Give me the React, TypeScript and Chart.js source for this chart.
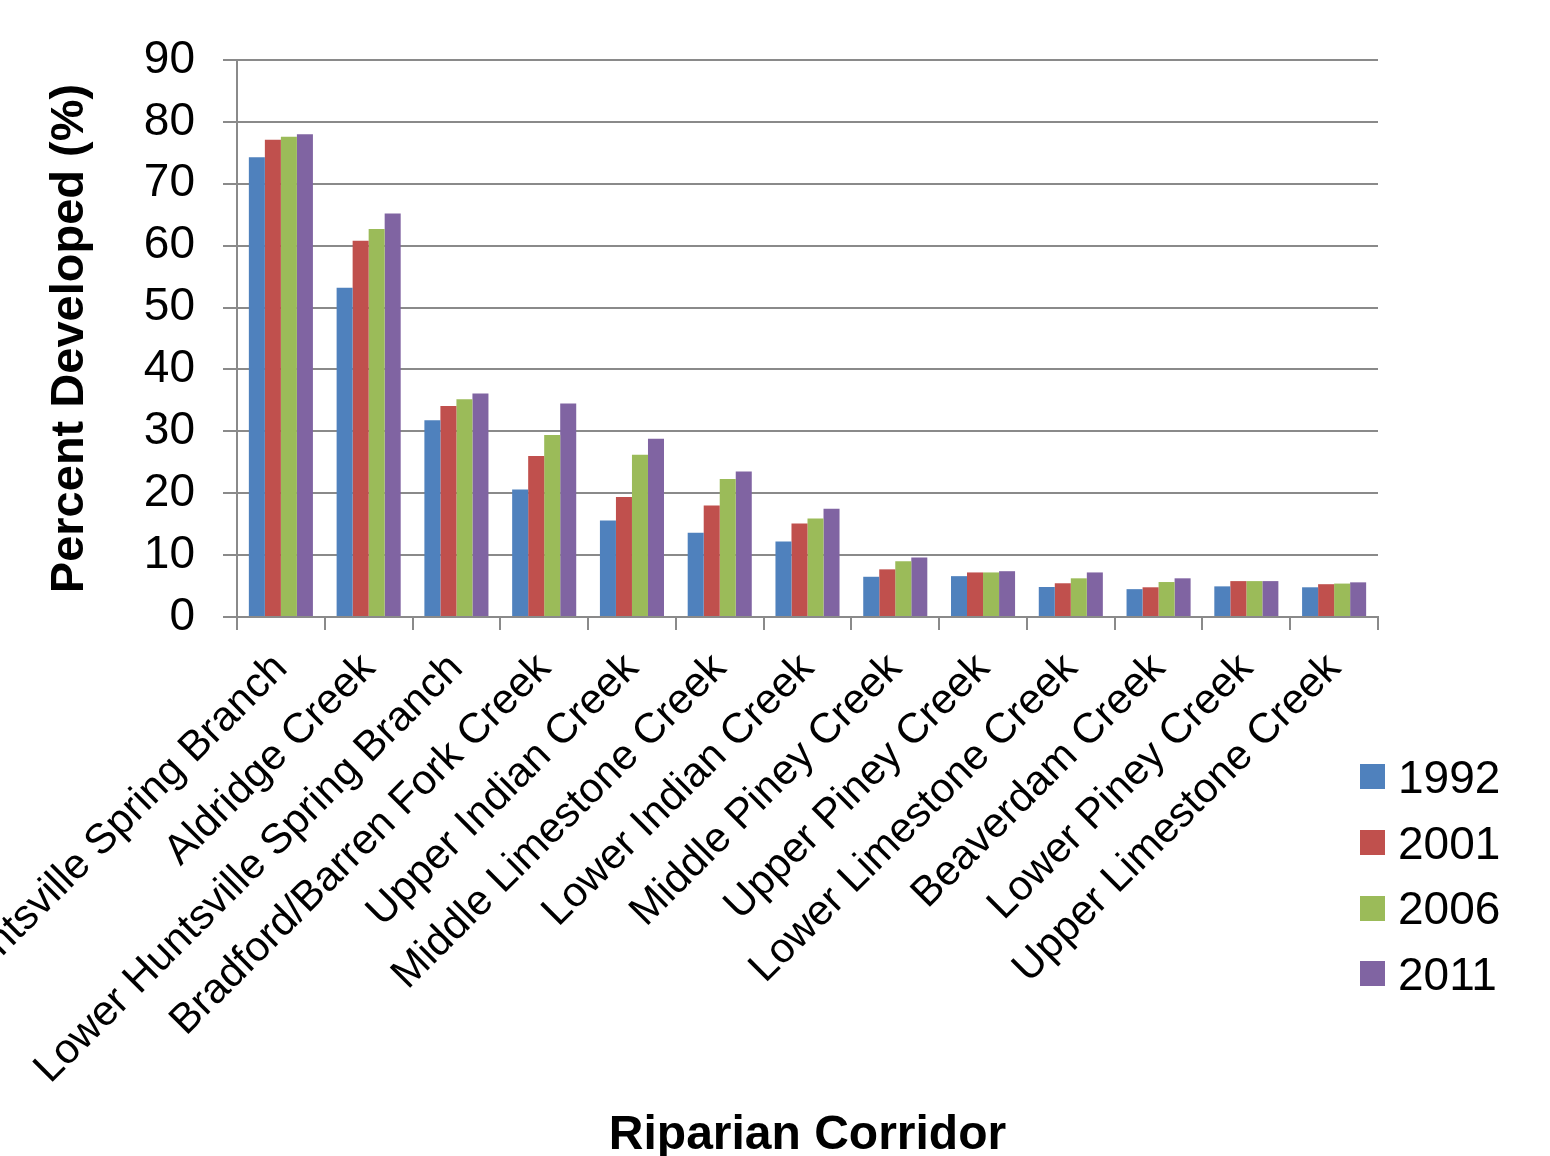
import React, { useEffect, useRef } from "react";
import { Chart, registerables } from "chart.js";

Chart.register(...registerables);

const categories = [
  "Upper Huntsville Spring Branch",
  "Aldridge Creek",
  "Lower Huntsville Spring Branch",
  "Bradford/Barren Fork Creek",
  "Upper Indian Creek",
  "Middle Limestone Creek",
  "Lower Indian Creek",
  "Middle Piney Creek",
  "Upper Piney Creek",
  "Lower Limestone Creek",
  "Beaverdam Creek",
  "Lower Piney Creek",
  "Upper Limestone Creek",
];

const seriesNames = ["1992", "2001", "2006", "2011"];
const values1992 = [74.3, 53.2, 31.8, 20.6, 15.6, 13.6, 12.2, 6.5, 6.6, 4.85, 4.5, 4.95, 4.8];
const values2001 = [77.1, 60.8, 34.1, 26.0, 19.4, 18.0, 15.1, 7.7, 7.2, 5.45, 4.8, 5.8, 5.3];
const values2006 = [77.6, 62.7, 35.2, 29.4, 26.2, 22.3, 15.9, 9.0, 7.2, 6.25, 5.65, 5.8, 5.4];
const values2011 = [78.0, 65.2, 36.1, 34.5, 28.8, 23.5, 17.5, 9.6, 7.4, 7.2, 6.25, 5.8, 5.6];
const seriesColors = ["#4F81BD", "#C0504D", "#9BBB59", "#8064A2"];
const yTicks = [0, 10, 20, 30, 40, 50, 60, 70, 80, 90];

const FONT = "'Liberation Sans', Arial, sans-serif";
const GRID = "#8a8a8a";

export default function App() {
  const ref = useRef<HTMLCanvasElement | null>(null);

  useEffect(() => {
    if (!ref.current) return;
    const all = [values1992, values2001, values2006, values2011];
    const chart = new Chart(ref.current, {
      type: "bar",
      data: {
        labels: categories,
        datasets: all.map((v, i) => ({
          label: seriesNames[i],
          data: v,
          backgroundColor: seriesColors[i],
          borderWidth: 0,
          barPercentage: 1,
          categoryPercentage: 0.73,
        })),
      },
      options: {
        animation: false,
        responsive: false,
        layout: { padding: { left: 0, right: 172, top: 60, bottom: 0 } },
        plugins: { legend: { display: false }, tooltip: { enabled: false } },
        scales: {
          x: {
            grid: {
              drawOnChartArea: false,
              drawTicks: true,
              tickLength: 13,
              color: GRID,
              lineWidth: 2,
            },
            border: { color: GRID, width: 2 },
            ticks: {
              autoSkip: false,
              maxRotation: 45,
              minRotation: 45,
              padding: 14,
              color: "#000",
              font: { family: FONT, size: 42 },
            },
            title: {
              display: true,
              text: "Riparian Corridor",
              color: "#000",
              font: { family: FONT, size: 48, weight: "bold" },
              padding: { top: 0, bottom: -9 },
            },
            afterFit: (s: any) => {
              s.height = 1156 - 617;
              s.paddingLeft = 0;
              s.paddingRight = 0;
            },
          },
          y: {
            min: 0,
            max: 90,
            afterBuildTicks: (s: any) => {
              s.ticks = yTicks.map((v) => ({ value: v }));
            },
            grid: {
              color: GRID,
              lineWidth: 2,
              drawTicks: true,
              tickLength: 14,
            },
            border: { color: GRID, width: 2 },
            ticks: {
              padding: 28,
              color: "#000",
              font: { family: FONT, size: 46 },
            },
            title: {
              display: true,
              text: "Percent Developed (%)",
              color: "#000",
              font: { family: FONT, size: 47, weight: "bold" },
              padding: { top: 42, bottom: 0 },
            },
            afterFit: (s: any) => {
              s.width = 237;
            },
          },
        },
      },
    });
    return () => chart.destroy();
  }, []);

  return (
    <div style={{ position: "absolute", left: 0, top: 0, width: 1550, height: 1156, overflow: "hidden", background: "#fff" }}>
      <canvas ref={ref} width={1550} height={1156} style={{ display: "block" }} />
      <div style={{ position: "absolute", left: 1360, top: 744, fontFamily: FONT, fontSize: 46, color: "#000" }}>
        {seriesNames.map((n, i) => (
          <div key={n} style={{ display: "flex", alignItems: "center", height: 65.7 }}>
            <span style={{ display: "inline-block", width: 25, height: 25, background: seriesColors[i], marginRight: 13 }} />
            <span style={{ lineHeight: "46px" }}>{n}</span>
          </div>
        ))}
      </div>
    </div>
  );
}
